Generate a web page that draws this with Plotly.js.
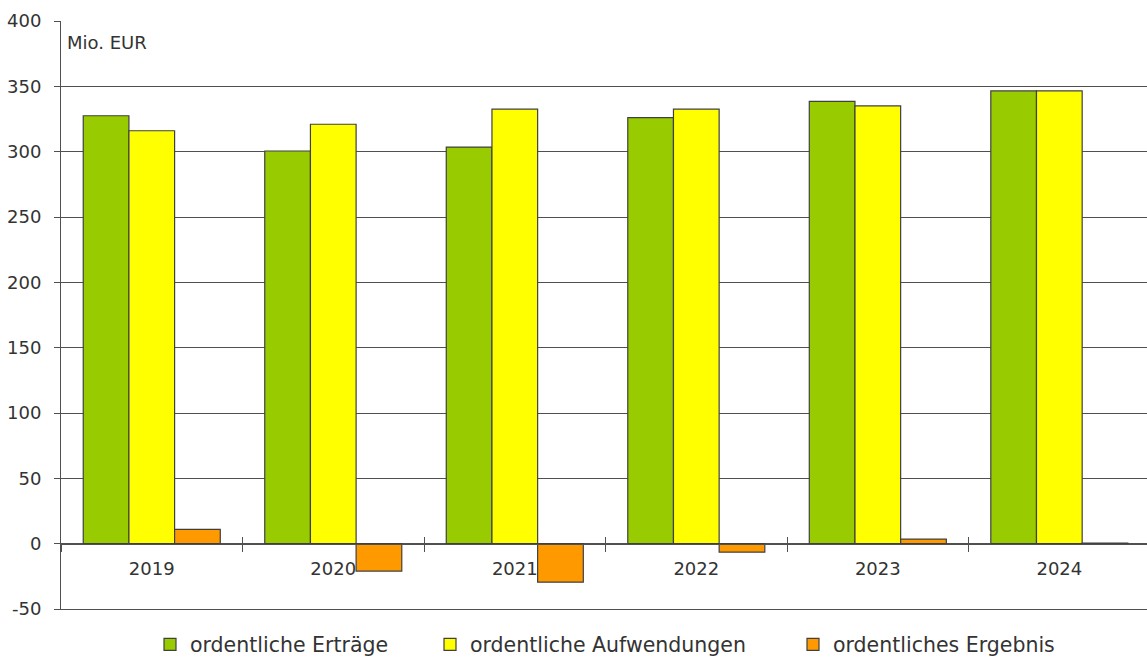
<!DOCTYPE html>
<html><head><meta charset="utf-8">
<script src="https://cdn.plot.ly/plotly-3.0.1.min.js"></script>
<style>html,body{margin:0;padding:0;background:#fff;overflow:hidden}#chart{width:1147px;height:662px}</style>
</head><body><div id="chart"></div>
<script>
const years = ['2019','2020','2021','2022','2023','2024'];
const ertraege = [327.5, 300.5, 303.5, 326, 338.5, 346.5];
const aufwendungen = [316, 321, 332.5, 332.5, 335, 346.5];
const ergebnis = [11, -21, -29.5, -6.5, 3.5, 0.5];
const names = ['ordentliche Erträge','ordentliche Aufwendungen','ordentliches Ergebnis'];
const colors = ['#99CC00','#FFFF00','#FF9900'];
const yTicks = [-50,0,50,100,150,200,250,300,350,400];

const FONT = 'DejaVu Sans, Liberation Sans, sans-serif';
const YMIN = -50, YMAX = 400;
const LINE = '#505050';
const legendIds = ['legend','legend2','legend3'];
const series = [ertraege, aufwendungen, ergebnis];
const data = series.map((v,i)=>({
  type:'bar', x:years, y:v, name:names[i], legend:legendIds[i],
  marker:{color:colors[i], line:{color:'#404040', width:1.2}},
  hoverinfo:'y'
}));
// helper traces so the extra overlay axes are drawn
data.push({type:'scatter', x:years, y:years.map(()=>null), xaxis:'x2', yaxis:'y', showlegend:false, hoverinfo:'skip'});
data.push({type:'scatter', x:years, y:years.map(()=>null), xaxis:'x3', yaxis:'y', showlegend:false, hoverinfo:'skip'});

const plotL = 61, plotW = 1086;
const legX = [150, 430, 793].map(px => (px - plotL) / plotW);
const legBase = {orientation:'h', xanchor:'left', y:-0.0265, yanchor:'top', bgcolor:'rgba(0,0,0,0)',
                 font:{family:FONT, size:20.5, color:'#333'}, itemwidth:30};
const zeroPos = (0-YMIN)/(YMAX-YMIN);

const layout = {
  width:1147, height:662,
  margin:{l:plotL, r:0, t:21, b:53, autoexpand:false},
  paper_bgcolor:'#fff', plot_bgcolor:'#fff',
  barmode:'group', bargap:0.245, bargroupgap:0,
  font:{family:FONT, color:'#333', size:18},
  showlegend:true,
  legend:Object.assign({}, legBase, {x:legX[0]}),
  legend2:Object.assign({}, legBase, {x:legX[1]}),
  legend3:Object.assign({}, legBase, {x:legX[2]}),
  xaxis:{type:'category', range:[-0.5, 5.483], anchor:'free', position:zeroPos,
         showline:true, linecolor:LINE, linewidth:1,
         ticks:'outside', ticklen:7, tickcolor:LINE, tickwidth:1, tickson:'boundaries',
         ticklabelstandoff:9,
         showgrid:false, zeroline:false, tickfont:{family:FONT, size:18, color:'#333'}, fixedrange:true},
  xaxis2:{type:'category', range:[-0.5, 5.483], overlaying:'x', anchor:'free', position:zeroPos,
         showline:false, ticks:'inside', ticklen:7, tickcolor:LINE, tickwidth:1, tickson:'boundaries',
         showticklabels:false, showgrid:false, zeroline:false, matches:'x'},
  xaxis3:{type:'category', range:[-0.5, 5.483], overlaying:'x', anchor:'y', side:'bottom',
         showline:true, linecolor:LINE, linewidth:1, ticks:'', showticklabels:false,
         showgrid:false, zeroline:false, matches:'x'},
  yaxis:{range:[YMIN, YMAX], tickvals:yTicks, ticktext:yTicks.map(String),
         showline:true, linecolor:LINE, linewidth:1, ticks:'outside', ticklen:6, tickcolor:LINE,
         ticklabelstandoff:9,
         showgrid:true, gridcolor:LINE, gridwidth:1, zeroline:false,
         tickfont:{family:FONT, size:18, color:'#333'}, fixedrange:true},
  annotations:[{text:'Mio. EUR', xref:'paper', yref:'paper', x:0.004, y:0.985, xanchor:'left', yanchor:'top',
                showarrow:false, font:{family:FONT, size:18, color:'#333'}}]
};
Plotly.newPlot('chart', data, layout, {displayModeBar:false, staticPlot:true});
</script></body></html>
